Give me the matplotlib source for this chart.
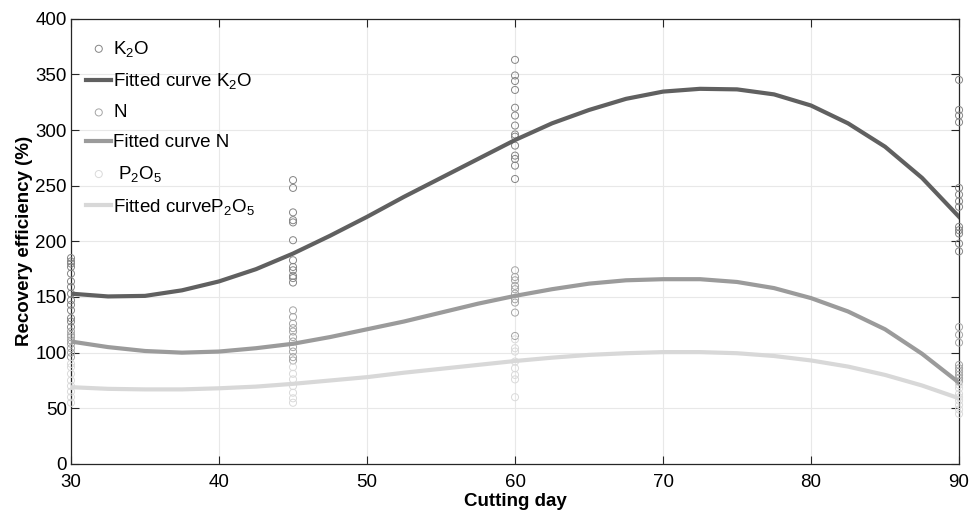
import matplotlib
matplotlib.use("Agg")
import matplotlib.pyplot as plt

plt.rcParams['font.family'] = ['Liberation Sans', 'DejaVu Sans']
plt.rcParams['mathtext.fontset'] = 'custom'
plt.rcParams['mathtext.rm'] = 'Liberation Sans'
plt.rcParams['mathtext.it'] = 'Liberation Sans:italic'
plt.rcParams['mathtext.bf'] = 'Liberation Sans:bold'

# measured points (cutting day -> recovery efficiency %)
k2o_30 = [185, 182, 180, 177, 171, 164, 159, 153, 147, 143, 138, 131, 128, 123]
k2o_45 = [255, 248, 226, 219, 217, 201, 183, 177, 174, 169, 167, 163]
k2o_60 = [363, 349, 344, 336, 320, 313, 304, 296, 294, 286, 277, 274, 268, 256]
k2o_90 = [345, 318, 313, 307, 248, 242, 236, 231, 213, 210, 207, 198, 191]

n_30 = [119, 116, 114, 111, 108, 104, 100, 96]
n_45 = [138, 132, 126, 122, 119, 114, 110, 105, 101, 96, 93]
n_60 = [174, 168, 165, 160, 157, 153, 148, 145, 136, 115]
n_90 = [123, 116, 109, 89, 86, 83, 80, 77, 74]

p_30 = [90, 87, 81, 75, 70, 65, 60, 55]
p_45 = [87, 81, 76, 70, 64, 59, 55]
p_60 = [112, 104, 101, 92, 86, 80, 76, 60]
p_90 = [71, 68, 63, 60, 57, 53, 49, 45]

# fitted curves
curve_days = [30, 32.5, 35, 37.5, 40, 42.5, 45, 47.5, 50, 52.5, 55, 57.5, 60,
              62.5, 65, 67.5, 70, 72.5, 75, 77.5, 80, 82.5, 85, 87.5, 90]
k2o_fit = [153, 150.5, 151, 156, 164, 175, 189, 205, 222, 240, 257, 274, 291,
           306, 318, 328, 334.5, 337, 336.5, 332, 322, 306, 285, 257, 222]
n_fit = [110, 105, 101.5, 100, 101, 104, 108, 114, 121, 128, 136, 144, 151,
         157, 162, 165, 166, 166, 163.5, 158, 149, 137, 121, 99, 73]
p_fit = [69, 67.5, 67, 67, 68, 69.5, 72, 75, 78, 82, 85.5, 89, 92.5,
         95.5, 98, 99.5, 100.5, 100.5, 99.5, 97, 93, 87.5, 80, 70.5, 59]


def xy(groups):
    xs, ys = [], []
    for day, vals in groups:
        xs += [day] * len(vals)
        ys += vals
    return xs, ys


fig = plt.figure(figsize=(9.7, 5.19), dpi=100)
ax = fig.add_axes([0.0732, 0.106, 0.9155, 0.858])

kx, ky = xy([(30, k2o_30), (45, k2o_45), (60, k2o_60), (90, k2o_90)])
nx, ny = xy([(30, n_30), (45, n_45), (60, n_60), (90, n_90)])
px, py = xy([(30, p_30), (45, p_45), (60, p_60), (90, p_90)])

fs = 13.5

ax.scatter(kx, ky, s=26, facecolors='none', edgecolors='#858585', linewidths=0.7,
           clip_on=False, zorder=3, label='K$_2$O')
ax.plot(curve_days, k2o_fit, color='#606060', lw=3, zorder=4,
        label='Fitted curve K$_2$O')
ax.scatter(nx, ny, s=26, facecolors='none', edgecolors='#a5a5a5', linewidths=0.7,
           clip_on=False, zorder=3, label='N')
ax.plot(curve_days, n_fit, color='#9b9b9b', lw=3, zorder=4,
        label='Fitted curve N')
ax.scatter(px, py, s=26, facecolors='none', edgecolors='#dadada', linewidths=0.7,
           clip_on=False, zorder=3, label=' P$_2$O$_5$')
ax.plot(curve_days, p_fit, color='#d8d8d8', lw=3, zorder=4,
        label='Fitted curveP$_2$O$_5$')

ax.set_xlim(30, 90)
ax.set_ylim(0, 400)
ax.set_xticks(range(30, 91, 10))
ax.set_yticks(range(0, 401, 50))
ax.grid(True, color='#e8e8e8', lw=0.8)
ax.set_axisbelow(True)
ax.tick_params(direction='in', top=True, right=True, length=6, width=0.8,
               color='#262626', labelsize=fs)
ax.tick_params(axis='x', pad=7)
ax.tick_params(axis='y', pad=3)
for sp in ax.spines.values():
    sp.set_color('#262626')
    sp.set_linewidth(0.9)

ax.set_xlabel('Cutting day', fontsize=fs, fontweight='bold', labelpad=2)
ax.set_ylabel('Recovery efficiency (%)', fontsize=fs, fontweight='bold', labelpad=2)

ax.legend(loc='upper left', bbox_to_anchor=(0.017, 0.955), frameon=False,
          fontsize=fs, handlelength=1.35, handletextpad=0.1,
          labelspacing=0.68, borderaxespad=0, borderpad=0)

fig.savefig('out.png', dpi=100)
